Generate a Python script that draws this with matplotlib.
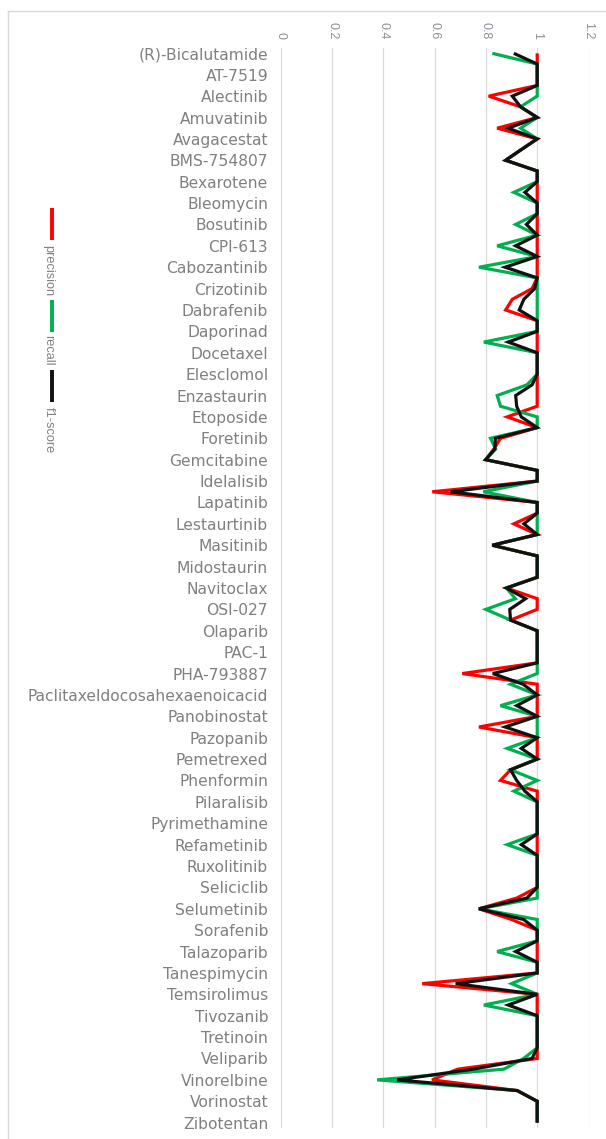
import numpy as np
import matplotlib
matplotlib.use("Agg")
import matplotlib.pyplot as plt
from matplotlib.lines import Line2D

# Drug names shown on the category axis (every second category is labelled)
drugs = [
    "(R)-Bicalutamide", "AT-7519", "Alectinib", "Amuvatinib", "Avagacestat",
    "BMS-754807", "Bexarotene", "Bleomycin", "Bosutinib", "CPI-613",
    "Cabozantinib", "Crizotinib", "Dabrafenib", "Daporinad", "Docetaxel",
    "Elesclomol", "Enzastaurin", "Etoposide", "Foretinib", "Gemcitabine",
    "Idelalisib", "Lapatinib", "Lestaurtinib", "Masitinib", "Midostaurin",
    "Navitoclax", "OSI-027", "Olaparib", "PAC-1", "PHA-793887",
    "Paclitaxeldocosahexaenoicacid", "Panobinostat", "Pazopanib", "Pemetrexed",
    "Phenformin", "Pilaralisib", "Pyrimethamine", "Refametinib", "Ruxolitinib",
    "Seliciclib", "Selumetinib", "Sorafenib", "Talazoparib", "Tanespimycin",
    "Temsirolimus", "Tivozanib", "Tretinoin", "Veliparib", "Vinorelbine",
    "Vorinostat", "Zibotentan",
]

series_names = ["precision", "recall", "f1-score"]

precision = [
    1.0, 1.0, 1.0, 1.0, 0.811, 0.935, 1.0, 0.844, 1.0, 0.938,
    0.877, 1.0, 1.0, 1.0, 1.0, 1.0, 1.0, 1.0, 1.0, 1.0,
    1.0, 1.0, 0.98, 0.903, 0.877, 1.0, 1.0, 1.0, 1.0, 1.0,
    1.0, 1.0, 1.0, 1.0, 0.883, 1.0, 0.857, 0.831, 0.799, 1.0,
    1.0, 0.591, 1.0, 1.0, 0.909, 1.0, 0.825, 1.0, 1.0, 1.0,
    0.88, 1.0, 1.0, 0.896, 1.0, 1.0, 1.0, 1.0, 0.708, 1.0,
    1.0, 1.0, 1.0, 0.773, 1.0, 1.0, 1.0, 0.896, 0.857, 1.0,
    1.0, 1.0, 1.0, 1.0, 1.0, 1.0, 1.0, 1.0, 1.0, 0.92,
    0.773, 0.90, 1.0, 1.0, 1.0, 1.0, 1.0, 0.552, 1.0, 1.0,
    1.0, 1.0, 1.0, 1.0, 1.0, 0.69, 0.59, 0.922, 1.0, 1.0,
    1.0,
]

recall = [
    0.825, 1.0, 1.0, 1.0, 1.0, 0.935, 1.0, 0.935, 1.0, 0.938,
    0.877, 1.0, 1.0, 0.909, 1.0, 1.0, 0.916, 1.0, 0.844, 1.0,
    0.773, 1.0, 1.0, 1.0, 1.0, 1.0, 1.0, 0.792, 1.0, 1.0,
    1.0, 0.96, 0.844, 0.857, 1.0, 1.0, 0.818, 0.838, 0.799, 1.0,
    1.0, 0.79, 1.0, 1.0, 1.0, 1.0, 0.825, 1.0, 1.0, 1.0,
    0.88, 0.915, 0.80, 0.896, 1.0, 1.0, 1.0, 1.0, 1.0, 0.896,
    1.0, 0.857, 1.0, 1.0, 1.0, 0.883, 1.0, 0.896, 1.0, 0.909,
    1.0, 1.0, 1.0, 1.0, 0.883, 1.0, 1.0, 1.0, 1.0, 1.0,
    0.773, 1.0, 1.0, 1.0, 0.844, 1.0, 1.0, 0.90, 1.0, 0.792,
    1.0, 1.0, 1.0, 1.0, 0.947, 0.87, 0.376, 0.922, 1.0, 1.0,
    1.0,
]

f1_score = [
    0.909, 1.0, 1.0, 1.0, 0.903, 0.935, 1.0, 0.887, 1.0, 0.938,
    0.877, 1.0, 1.0, 0.952, 1.0, 1.0, 0.958, 1.0, 0.916, 1.0,
    0.875, 1.0, 0.99, 0.948, 0.93, 1.0, 1.0, 0.887, 1.0, 1.0,
    1.0, 0.98, 0.916, 0.92, 0.938, 1.0, 0.837, 0.835, 0.799, 1.0,
    1.0, 0.662, 1.0, 1.0, 0.948, 1.0, 0.825, 1.0, 1.0, 1.0,
    0.88, 0.955, 0.893, 0.896, 1.0, 1.0, 1.0, 1.0, 0.827, 0.945,
    1.0, 0.92, 1.0, 0.875, 1.0, 0.938, 1.0, 0.896, 0.92, 0.952,
    1.0, 1.0, 1.0, 1.0, 0.938, 1.0, 1.0, 1.0, 1.0, 0.96,
    0.773, 0.947, 1.0, 1.0, 0.916, 1.0, 1.0, 0.682, 1.0, 0.887,
    1.0, 1.0, 1.0, 1.0, 0.98, 0.75, 0.454, 0.922, 1.0, 1.0,
    1.0,
]

x_ticks = [0, 0.2, 0.4, 0.6, 0.8, 1, 1.2]
x_tick_labels = ["0", "0.2", "0.4", "0.6", "0.8", "1", "1.2"]

colors = ["#ff0000", "#00b050", "#111111"]
grid_color = "#d9d9d9"
text_color = "#808080"

W, H = 606, 1139
fig = plt.figure(figsize=(W / 100, H / 100), dpi=100)

# Plot area in pixel coordinates of the canvas
ax_left, ax_right, ax_top, ax_bottom = 280.7, 588.5, 48, 1128
ax = fig.add_axes([ax_left / W, 1 - ax_bottom / H,
                   (ax_right - ax_left) / W, (ax_bottom - ax_top) / H])

pos = np.arange(len(precision))
for vals, col in zip([precision, recall, f1_score], colors):
    ax.plot(vals, pos, color=col, lw=2.3, solid_joinstyle="miter",
            solid_capstyle="butt")

ax.set_xlim(0, 1.2)
ax.set_ylim(len(precision) - 0.5, -0.5)

ax.set_xticks(x_ticks)
ax.set_xticklabels(x_tick_labels, rotation=-90, color="#8a8f99",
                   fontsize=9, family="Liberation Sans")
ax.xaxis.tick_top()
ax.tick_params(axis="x", length=0, pad=6.5)

ax.set_yticks(pos[::2])
ax.set_yticklabels(drugs, color=text_color, fontsize=11.2, family="DejaVu Sans")
ax.tick_params(axis="y", length=0, pad=9)

ax.grid(axis="x", color=grid_color, lw=0.9)
ax.set_axisbelow(True)
for s in ax.spines.values():
    s.set_visible(False)

# Outer chart border (left and top edges)
fig.add_artist(Line2D([7.5 / W, 7.5 / W], [0, 1 - 11 / H],
                      transform=fig.transFigure, color=grid_color, lw=1))
fig.add_artist(Line2D([7.5 / W, 1], [1 - 11 / H, 1 - 11 / H],
                      transform=fig.transFigure, color=grid_color, lw=1))

# Vertical legend on the left
legend_items = [(208, 240, 245), (300, 332, 335), (370, 402, 407)]
for (y0, y1, ty), name, col in zip(legend_items, series_names, colors):
    fig.add_artist(Line2D([51.5 / W, 51.5 / W], [1 - y0 / H, 1 - y1 / H],
                          transform=fig.transFigure, color=col, lw=2.8,
                          solid_capstyle="butt"))
    fig.text(48.5 / W, 1 - ty / H, name, rotation=-90, ha="center", va="top",
             color=text_color, fontsize=9.2, family="Liberation Sans")

fig.savefig("out.png", dpi=100, facecolor="white")
